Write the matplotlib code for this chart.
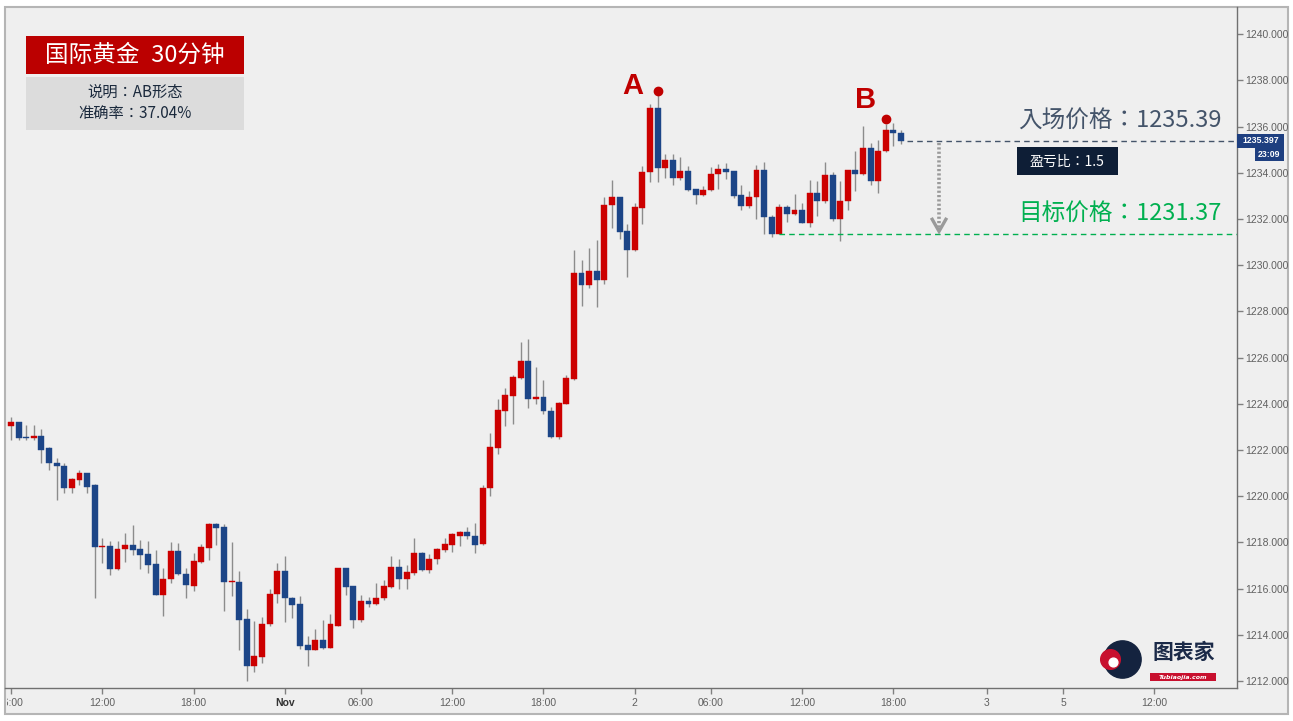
# plot.py
# 国际黄金 30分钟 K线图 — AB形态 入场/目标价格标注

import numpy as np
import matplotlib
matplotlib.use('Agg')
import matplotlib.pyplot as plt
from matplotlib.patches import Rectangle
from matplotlib.transforms import Bbox, blended_transform_factory

plt.rcParams['font.family'] = ['Noto Sans CJK SC', 'DejaVu Sans']
CJK_TC = ['Noto Sans CJK TC', 'DejaVu Sans']   # centred full-width colon

W, H = 1293, 721

# ── data: 30-minute OHLC bars ─────────────────────────────────────────────────
opens = [
    1223.06, 1223.23, 1222.54, 1222.54, 1222.63, 1222.07, 1221.42, 1221.33, 1220.34, 1220.69,
    1220.99, 1220.47, 1217.80, 1217.84, 1216.84, 1217.70, 1217.88, 1217.70, 1217.49, 1217.05,
    1215.71, 1216.40, 1217.62, 1216.62, 1216.10, 1217.14, 1217.75, 1218.78, 1218.65, 1216.28,
    1216.28, 1214.68, 1212.64, 1213.04, 1214.46, 1215.76, 1216.75, 1215.58, 1215.32, 1213.55,
    1213.34, 1213.77, 1213.42, 1214.37, 1216.88, 1216.10, 1214.63, 1215.45, 1215.32, 1215.58,
    1216.06, 1216.92, 1216.40, 1216.67, 1217.53, 1216.80, 1217.27, 1217.66, 1217.88, 1218.30,
    1218.44, 1218.26, 1217.92, 1220.34, 1222.11, 1223.71, 1224.36, 1225.13, 1225.87, 1224.23,
    1224.31, 1223.71, 1222.58, 1224.01, 1225.09, 1229.67, 1229.15, 1229.76, 1229.37, 1232.61,
    1232.96, 1231.49, 1230.66, 1232.48, 1234.04, 1236.80, 1234.21, 1234.56, 1233.78, 1234.08,
    1233.30, 1233.04, 1233.26, 1233.95, 1234.17, 1234.08, 1233.04, 1232.57, 1232.96, 1234.12,
    1232.09, 1231.36, 1232.52, 1232.22, 1232.39, 1231.83, 1233.13, 1232.78, 1233.91, 1232.00,
    1232.78, 1234.12, 1233.95, 1235.07, 1233.65, 1234.95, 1235.85, 1235.72,
]
highs = [
    1223.41, 1223.23, 1223.10, 1223.10, 1222.93, 1222.15, 1221.64, 1221.46, 1220.81, 1221.12,
    1220.99, 1220.55, 1218.18, 1218.05, 1218.05, 1218.39, 1218.74, 1218.09, 1218.05, 1217.66,
    1216.88, 1218.00, 1217.96, 1216.88, 1217.53, 1217.92, 1218.83, 1218.83, 1218.78, 1218.00,
    1216.75, 1215.11, 1214.59, 1214.76, 1215.97, 1217.10, 1217.40, 1215.63, 1215.67, 1213.94,
    1214.24, 1214.63, 1214.89, 1216.88, 1216.88, 1216.10, 1215.71, 1215.63, 1216.23, 1216.36,
    1217.40, 1217.27, 1217.01, 1218.18, 1217.57, 1217.49, 1217.75, 1218.18, 1218.39, 1218.48,
    1218.65, 1218.83, 1220.47, 1222.76, 1224.23, 1224.70, 1225.26, 1226.69, 1226.82, 1225.61,
    1225.05, 1223.88, 1224.10, 1225.26, 1230.66, 1230.23, 1230.75, 1231.10, 1232.96, 1233.69,
    1232.96, 1231.79, 1232.69, 1234.30, 1236.97, 1237.41, 1234.82, 1234.82, 1234.69, 1234.30,
    1233.30, 1233.43, 1234.25, 1234.38, 1234.43, 1234.08, 1233.47, 1233.22, 1234.34, 1234.47,
    1232.18, 1232.65, 1232.61, 1233.08, 1232.69, 1233.69, 1233.65, 1234.47, 1234.04, 1233.65,
    1234.12, 1234.95, 1236.02, 1235.29, 1235.42, 1236.11, 1236.15, 1235.85,
]
lows = [
    1222.45, 1222.45, 1222.45, 1222.45, 1221.42, 1221.12, 1219.86, 1220.12, 1220.12, 1220.47,
    1220.12, 1215.58, 1217.10, 1216.58, 1216.80, 1217.14, 1217.44, 1216.84, 1216.66, 1215.71,
    1214.81, 1216.23, 1216.60, 1215.58, 1215.88, 1217.10, 1217.23, 1217.88, 1215.02, 1215.67,
    1213.34, 1212.00, 1212.39, 1212.77, 1214.37, 1215.37, 1214.55, 1214.72, 1213.38, 1212.64,
    1213.34, 1213.38, 1213.42, 1214.37, 1215.71, 1214.29, 1214.55, 1215.20, 1215.30, 1215.50,
    1216.02, 1215.97, 1215.97, 1216.60, 1216.75, 1216.67, 1217.05, 1217.57, 1217.57, 1217.83,
    1218.13, 1217.53, 1217.88, 1219.99, 1221.85, 1223.06, 1223.15, 1225.09, 1223.84, 1224.01,
    1223.58, 1222.54, 1222.50, 1224.01, 1225.05, 1228.25, 1229.02, 1228.20, 1229.20, 1231.62,
    1231.14, 1229.50, 1230.62, 1231.79, 1233.60, 1233.60, 1233.78, 1233.47, 1233.70, 1233.20,
    1232.65, 1233.00, 1233.20, 1233.30, 1233.73, 1232.91, 1232.39, 1232.48, 1232.00, 1231.36,
    1231.23, 1231.36, 1231.88, 1232.18, 1231.83, 1231.66, 1232.13, 1232.70, 1231.90, 1231.06,
    1232.39, 1233.22, 1233.90, 1233.47, 1233.13, 1234.90, 1235.16, 1235.24,
]
closes = [
    1223.23, 1222.54, 1222.52, 1222.63, 1222.02, 1221.42, 1221.29, 1220.34, 1220.73, 1220.99,
    1220.42, 1217.79, 1217.84, 1216.84, 1217.70, 1217.88, 1217.66, 1217.44, 1217.01, 1215.71,
    1216.40, 1217.62, 1216.62, 1216.15, 1217.18, 1217.79, 1218.78, 1218.61, 1216.28, 1216.32,
    1214.63, 1212.64, 1213.08, 1214.46, 1215.76, 1216.75, 1215.58, 1215.28, 1213.51, 1213.34,
    1213.77, 1213.42, 1214.46, 1216.88, 1216.06, 1214.63, 1215.45, 1215.32, 1215.58, 1216.10,
    1216.92, 1216.40, 1216.71, 1217.53, 1216.80, 1217.27, 1217.70, 1217.92, 1218.35, 1218.44,
    1218.26, 1217.88, 1220.34, 1222.15, 1223.75, 1224.40, 1225.18, 1225.87, 1224.23, 1224.31,
    1223.67, 1222.58, 1224.05, 1225.13, 1229.67, 1229.15, 1229.76, 1229.37, 1232.61, 1232.96,
    1231.44, 1230.66, 1232.52, 1234.04, 1236.80, 1234.21, 1234.56, 1233.78, 1234.08, 1233.26,
    1233.04, 1233.26, 1233.95, 1234.17, 1234.04, 1233.00, 1232.57, 1232.96, 1234.12, 1232.09,
    1231.36, 1232.52, 1232.22, 1232.39, 1231.83, 1233.13, 1232.78, 1233.91, 1232.00, 1232.78,
    1234.12, 1233.95, 1235.07, 1233.65, 1234.95, 1235.85, 1235.72, 1235.40,
]

tick_pos    = [0, 12, 24, 36, 46, 58, 70, 82, 92, 104, 116, 128.3, 138.3, 150.3]
tick_labels = ['06:00', '12:00', '18:00', 'Nov', '06:00', '12:00', '18:00', '2',
               '06:00', '12:00', '18:00', '3', '5', '12:00']
y_ticks     = np.arange(1212, 1241, 2)

entry_price  = 1235.39
target_price = 1231.37
last_price   = 1235.397
last_time    = '23:09'
rr_ratio     = 1.5
accuracy     = 37.04
point_a_bar  = 85
point_b_bar  = 115
target_start_bar = 101

UP, DOWN, WICK = '#cc0000', '#1c4587', '#8c8c8c'
SLATE, GREEN   = '#44546a', '#00b050'


# ── figure / frame ────────────────────────────────────────────────────────────
fig = plt.figure(figsize=(W / 100, H / 100), dpi=100)
fig.patch.set_facecolor('white')
fig.patches.append(Rectangle((5 / W, 7 / H), 1283 / W, 707 / H,
                             transform=fig.transFigure, facecolor='#efefef',
                             edgecolor='#b5b5b5', lw=1.5, zorder=-1))

ax = fig.add_axes([5 / W, 33 / H, 1232 / W, 681 / H])
ax.patch.set_visible(False)

o = np.array(opens); h = np.array(highs); l = np.array(lows); c = np.array(closes)
x = np.arange(len(o))
colors = np.where(c >= o, UP, DOWN)

ax.vlines(x, l, h, color=WICK, lw=1, zorder=2)
bottom = np.minimum(o, c)
height = np.maximum(np.abs(c - o), 0.05)
ax.bar(x, height, bottom=bottom, width=0.78, color=colors, edgecolor=colors,
       linewidth=0.3, zorder=3)

ax.set_xlim(-0.79, 161.17)
ax.set_ylim(1211.70, 1241.18)

# ── axes styling ──────────────────────────────────────────────────────────────
for s in ['left', 'top']:
    ax.spines[s].set_visible(False)
for s in ['right', 'bottom']:
    ax.spines[s].set_color('#707070')
    ax.spines[s].set_linewidth(1)

ax.yaxis.tick_right()
ax.set_yticks(y_ticks)
ax.set_yticklabels([f'{v:.3f}' for v in y_ticks])
ax.set_xticks(tick_pos)
ax.set_xticklabels(tick_labels)
ax.tick_params(axis='both', direction='out', length=4, width=1, color='#808080',
               labelsize=7.5, labelcolor='#606060')
ax.tick_params(axis='x', pad=3)
ax.tick_params(axis='y', pad=2)
for lab in ax.get_xticklabels() + ax.get_yticklabels():
    lab.set_fontfamily('Liberation Sans')
xt = ax.get_xticklabels()
xt[3].set_fontweight('bold')
xt[3].set_color('#333333')
# first label sits on the left frame edge and is cut off there
first = ax.xaxis.get_major_ticks()[0].label1
first.set_clip_on(True)
first.set_clip_box(Bbox.from_extents(7, 0, W, H))

# ── current price tag on the right axis ───────────────────────────────────────
tr = blended_transform_factory(ax.transAxes, ax.transData)
ax.add_patch(Rectangle((1.0, last_price - 0.3), 47 / 1232, 0.6, transform=tr,
                       facecolor='#1e3f80', edgecolor='none', clip_on=False, zorder=5))
ax.text(1.0 + 23.5 / 1232, last_price, f'{last_price:.3f}', transform=tr,
        ha='center', va='center', color='white', fontsize=6.3, fontweight='bold',
        family='Liberation Sans', zorder=6, clip_on=False)
ax.add_patch(Rectangle((1.0 + 18 / 1232, last_price - 0.9), 29 / 1232, 0.56,
                       transform=tr, facecolor='#1e3f80', edgecolor='none',
                       clip_on=False, zorder=5))
ax.text(1.0 + 32.5 / 1232, last_price - 0.62, last_time, transform=tr,
        ha='center', va='center', color='white', fontsize=6.3, fontweight='bold',
        family='Liberation Sans', zorder=6, clip_on=False)

# ── entry / target levels ─────────────────────────────────────────────────────
xmax = ax.get_xlim()[1]
ax.hlines(entry_price, len(o) - 0.2, xmax, colors=SLATE, lw=1,
          linestyles=(0, (4, 3)), zorder=4)
ax.hlines(target_price, target_start_bar, xmax, colors=GREEN, lw=1,
          linestyles=(0, (4, 3)), zorder=4)

ax.text(159.2, entry_price + 0.85, f'入场价格：{entry_price:.2f}', ha='right',
        va='center', fontsize=17, color=SLATE, family=CJK_TC)
ax.text(159.2, target_price + 0.9, f'目标价格：{target_price:.2f}', ha='right',
        va='center', fontsize=17, color=GREEN, family=CJK_TC)

ax.add_patch(Rectangle((132.2, 1233.9), 13.3, 1.22, facecolor='#0e1e36',
                       edgecolor='none', zorder=5))
ax.text(138.85, 1234.49, f'盈亏比：{rr_ratio}', ha='center', va='center',
        fontsize=10, color='white', zorder=6, family=CJK_TC)

# dotted arrow from entry down to target
arrow_x = 122
ax.plot([arrow_x, arrow_x], [entry_price - 0.1, target_price + 0.2],
        color='#9a9a9a', lw=2.6, linestyle=(0, (0.6, 0.6)), zorder=4)
ax.plot([arrow_x - 0.9, arrow_x, arrow_x + 0.9],
        [target_price + 0.62, target_price + 0.1, target_price + 0.62],
        color='#9a9a9a', lw=2.4, solid_joinstyle='miter', zorder=4)

# ── A / B pattern points ──────────────────────────────────────────────────────
ax.plot(point_a_bar, h[point_a_bar] + 0.12, 'o', color='#c00000', ms=6, zorder=6)
ax.text(point_a_bar - 3.3, h[point_a_bar] + 0.35, 'A', ha='center', va='center',
        fontsize=21, fontweight='bold', color='#c00000', family='Liberation Sans')
ax.plot(point_b_bar, h[point_b_bar] + 0.22, 'o', color='#c00000', ms=6, zorder=6)
ax.text(point_b_bar - 2.6, h[point_b_bar] + 1.05, 'B', ha='center', va='center',
        fontsize=21, fontweight='bold', color='#c00000', family='Liberation Sans')

# ── title boxes (top left) ────────────────────────────────────────────────────
def fx(px):
    return (px - 5) / 1232

def fy(py):
    return (688 - py) / 681

ax.add_patch(Rectangle((fx(26), fy(74)), fx(244) - fx(26), fy(36) - fy(74),
                       transform=ax.transAxes, facecolor='#bb0000', edgecolor='none'))
ax.text(fx(135), fy(55), '国际黄金\u200230分钟', transform=ax.transAxes,
        ha='center', va='center', fontsize=17, color='white',
        family=['Noto Sans CJK SC', 'DejaVu Sans'])
ax.add_patch(Rectangle((fx(26), fy(130)), fx(244) - fx(26), fy(77) - fy(130),
                       transform=ax.transAxes, facecolor='#dcdcdc', edgecolor='none'))
ax.text(fx(135), fy(92), '说明：AB形态', transform=ax.transAxes, ha='center',
        va='center', fontsize=11, color='#1b2a3d', family=CJK_TC)
ax.text(fx(135), fy(113), f'准确率：{accuracy:.2f}%', transform=ax.transAxes,
        ha='center', va='center', fontsize=11, color='#1b2a3d', family=CJK_TC)

# ── watermark logo (bottom right) ─────────────────────────────────────────────
ax.scatter([fx(1122)], [fy(659)], s=720, color='#14233f', transform=ax.transAxes,
           zorder=5, clip_on=False)
ax.scatter([fx(1110)], [fy(659)], s=200, color='#c8102e', transform=ax.transAxes,
           zorder=6, clip_on=False)
ax.scatter([fx(1113)], [fy(662)], s=40, color='white', transform=ax.transAxes,
           zorder=7, clip_on=False)
ax.text(fx(1184), fy(652), '图表家', transform=ax.transAxes, ha='center', va='center',
        fontsize=15, fontweight='bold', color='#1b2a48')
ax.add_patch(Rectangle((fx(1150), fy(681)), fx(1216) - fx(1150), fy(673) - fy(681),
                       transform=ax.transAxes, facecolor='#c8102e', edgecolor='none'))
ax.text(fx(1183), fy(677), 'Tubiaojia.com', transform=ax.transAxes, ha='center',
        va='center', fontsize=4.5, fontweight='bold', style='italic', color='white',
        family='DejaVu Sans')

fig.savefig('out.png', dpi=100, facecolor=fig.get_facecolor())
